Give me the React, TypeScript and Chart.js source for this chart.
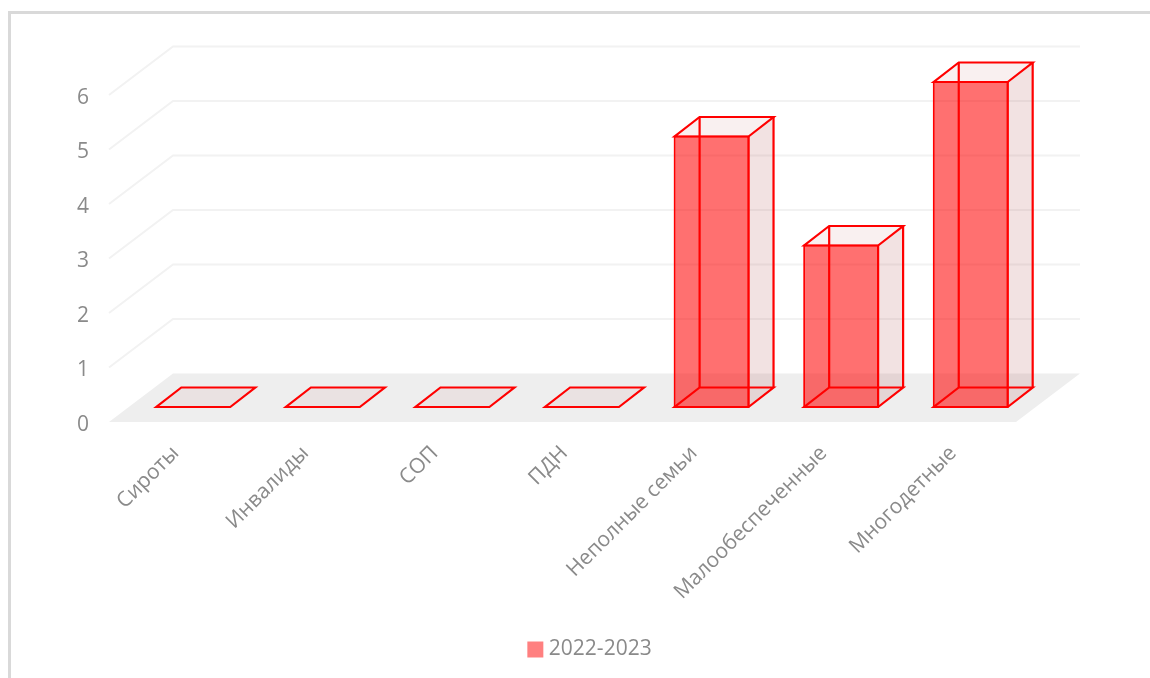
import React, { useEffect, useRef } from "react";
import { Chart, registerables } from "chart.js";

Chart.register(...registerables);

const categories = ["Сироты", "Инвалиды", "СОП", "ПДН", "Неполные семьи", "Малообеспеченные", "Многодетные"];
const seriesName = "2022-2023";
const seriesValues = [0, 0, 0, 0, 5, 3, 6];
const yTicks = [0, 1, 2, 3, 4, 5, 6];

const FONT = "'Open Sans', 'Noto Sans', sans-serif";
const TEXT = "#8a8a8a";
const GRID = "#f2f2f2";
const FLOOR = "#eeeeee";
const RED = "#ff0000";

// Oblique projection used for the 3D look
const WALL = { dx: 64, dy: -48.5 };
const BAR_SHIFT = { dx: 19.5, dy: -14 };
const BAR_DEPTH = { dx: 25, dy: -19.5 };

const box3d = {
  id: "box3d",
  beforeDatasetsDraw(chart: any) {
    const { ctx, chartArea: a, scales } = chart;
    const y = scales.y;
    const base = y.getPixelForValue(0);
    ctx.save();
    // floor
    ctx.fillStyle = FLOOR;
    ctx.beginPath();
    ctx.moveTo(a.left, base);
    ctx.lineTo(a.right, base);
    ctx.lineTo(a.right + WALL.dx, base + WALL.dy);
    ctx.lineTo(a.left + WALL.dx, base + WALL.dy);
    ctx.closePath();
    ctx.fill();
    // walls
    ctx.strokeStyle = GRID;
    ctx.lineWidth = 2;
    yTicks.forEach((t) => {
      if (t === 0) return;
      const py = y.getPixelForValue(t);
      ctx.beginPath();
      ctx.moveTo(a.left, py);
      ctx.lineTo(a.left + WALL.dx, py + WALL.dy);
      ctx.lineTo(a.right + WALL.dx, py + WALL.dy);
      ctx.stroke();
    });
    // bars: faces that sit behind the front face
    const meta = chart.getDatasetMeta(0);
    meta.data.forEach((el: any) => {
      const { x, y: top, base: bottom, width } = el.getProps(["x", "y", "base", "width"], true);
      const l = x - width / 2 + 1 + BAR_SHIFT.dx;
      const r = x + width / 2 - 1 + BAR_SHIFT.dx;
      const b = bottom - 1 + BAR_SHIFT.dy;
      const t = Math.min(top + 1, bottom - 1) + BAR_SHIFT.dy;
      const dx = BAR_DEPTH.dx;
      const dy = BAR_DEPTH.dy;
      const poly = (pts: number[][], fill: string | null) => {
        ctx.beginPath();
        pts.forEach((p, i) => (i ? ctx.lineTo(p[0], p[1]) : ctx.moveTo(p[0], p[1])));
        ctx.closePath();
        if (fill) {
          ctx.fillStyle = fill;
          ctx.fill();
        }
      };
      const hasHeight = b - t > 0.5;
      if (hasHeight) {
        poly([[r, t], [r + dx, t + dy], [r + dx, b + dy], [r, b]], "rgba(190,110,110,0.2)");
        poly([[l, t], [r, t], [r + dx, t + dy], [l + dx, t + dy]], "rgba(200,110,110,0.1)");
      } else {
        poly([[l, b], [r, b], [r + dx, b + dy], [l + dx, b + dy]], "rgba(200,110,110,0.09)");
      }
      ctx.strokeStyle = RED;
      ctx.lineWidth = 2.2;
      ctx.lineJoin = "miter";
      poly([[l, t], [r, t], [r + dx, t + dy], [l + dx, t + dy]], null);
      ctx.stroke();
      if (hasHeight) {
        poly([[l, b], [r, b], [r + dx, b + dy], [l + dx, b + dy]], null);
        ctx.stroke();
        ctx.beginPath();
        ctx.moveTo(r, t);
        ctx.lineTo(r, b);
        ctx.moveTo(r + dx, t + dy);
        ctx.lineTo(r + dx, b + dy);
        ctx.moveTo(l + dx, t + dy);
        ctx.lineTo(l + dx, b + dy);
        ctx.stroke();
      }
    });
    ctx.restore();
    // the bar elements themselves are the front faces, moved into the floor's depth
    ctx.save();
    ctx.translate(BAR_SHIFT.dx, BAR_SHIFT.dy);
  },
  afterDatasetsDraw(chart: any) {
    chart.ctx.restore();
  },
  afterLayout(chart: any) {
    const shift = 84;
    chart.legend.left += shift;
    chart.legend.right += shift;
  },
};

export default function App() {
  const ref = useRef<HTMLCanvasElement>(null);
  useEffect(() => {
    const chart = new Chart(ref.current as HTMLCanvasElement, {
      type: "bar",
      data: {
        labels: categories,
        datasets: [
          {
            label: seriesName,
            data: seriesValues,
            backgroundColor: "rgba(255,0,0,0.56)",
            borderColor: RED,
            borderWidth: 2,
            borderSkipped: false,
            barPercentage: 0.586,
            categoryPercentage: 1,
            clip: false,
          } as any,
        ],
      },
      options: {
        responsive: false,
        animation: false,
        devicePixelRatio: 1,
        layout: { padding: { left: 0, right: 134, top: 95, bottom: 8 } },
        plugins: {
          tooltip: { enabled: false },
          legend: {
            position: "bottom",
            labels: {
              usePointStyle: true,
              boxWidth: 6,
              boxHeight: 16,
              color: TEXT,
              font: { family: FONT, size: 21 },
              generateLabels: () => [
                {
                  text: seriesName,
                  fillStyle: "#ff8080",
                  strokeStyle: "#ff8080",
                  fontColor: TEXT,
                  lineWidth: 0,
                  pointStyle: "rect",
                  hidden: false,
                  datasetIndex: 0,
                } as any,
              ],
            },
          },
        },
        scales: {
          x: {
            grid: { display: false },
            border: { display: false },
            afterFit: (s: any) => {
              s.height = 207;
            },
            ticks: {
              autoSkip: false,
              minRotation: 45,
              maxRotation: 45,
              padding: 11,
              labelOffset: 2,
              color: TEXT,
              font: { family: FONT, size: 21 },
            },
          },
          y: {
            min: 0,
            max: 6,
            grid: { display: false, drawTicks: false },
            border: { display: false },
            afterFit: (s: any) => {
              s.width = 109;
            },
            afterBuildTicks: (s: any) => {
              s.ticks = yTicks.map((value) => ({ value }));
            },
            ticks: {
              padding: 20,
              labelOffset: 3,
              color: TEXT,
              font: { family: FONT, size: 21 },
            },
          },
        },
      },
      plugins: [box3d],
    } as any);
    return () => chart.destroy();
  }, []);
  return (
    <div>
      <div
        style={{
          position: "absolute",
          left: 8,
          top: 11,
          width: 1142,
          height: 667,
          boxSizing: "border-box",
          borderLeft: "3px solid #d9d9d9",
          borderTop: "3px solid #d9d9d9",
        }}
      />
      <canvas
        ref={ref}
        width={1150}
        height={678}
        style={{ position: "absolute", left: 0, top: 0, width: 1150, height: 678, display: "block" }}
      />
    </div>
  );
}
